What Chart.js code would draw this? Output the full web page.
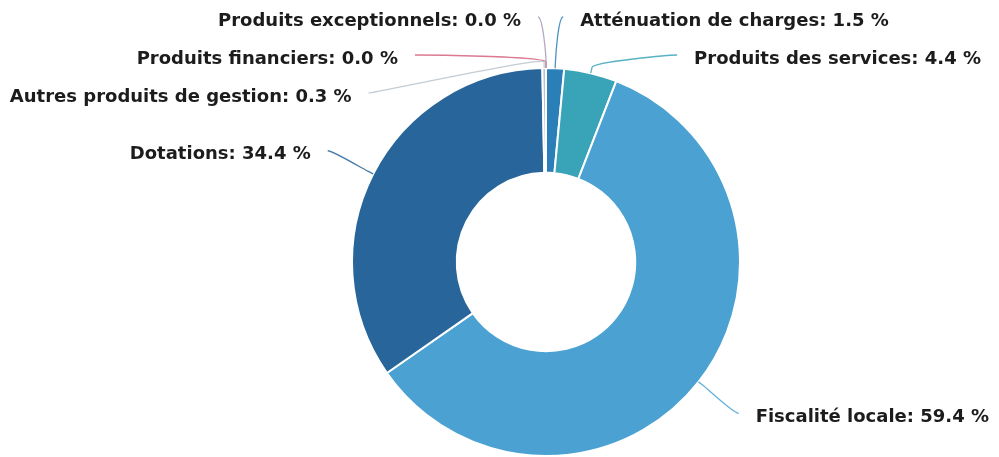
<!DOCTYPE html>
<html>
<head>
<meta charset="utf-8">
<script src="https://cdn.jsdelivr.net/npm/chart.js@4/dist/chart.umd.min.js"></script>
<style>
  html, body { margin: 0; padding: 0; background: #ffffff; }
  #wrap { width: 999px; height: 457px; position: relative; }
</style>
</head>
<body>
<div id="wrap"><canvas id="chart"></canvas></div>
<script>
// Répartition des recettes de fonctionnement (en %)
const categories = [
  'Atténuation de charges',
  'Produits des services',
  'Fiscalité locale',
  'Dotations',
  'Autres produits de gestion',
  'Produits financiers',
  'Produits exceptionnels'
];
const shares = [1.5, 4.4, 59.4, 34.4, 0.3, 0.0, 0.0];
const sliceColors = ['#2b7fb8', '#39a4b8', '#4aa1d2', '#28659a', '#b9c3cc', '#d4617f', '#a898b0'];

// Places labels outside the ring with curved connector lines,
// spreading crowded labels vertically on each side.
const outsideLabels = {
  id: 'outsideLabels',
  afterDatasetsDraw(chart) {
    const meta = chart.getDatasetMeta(0);
    const ctx = chart.ctx;
    const first = meta.data[0];
    const cx = first.x, cy = first.y, r = first.outerRadius;
    const labelR = r + 51;
    const minY = 17, maxY = chart.height - 20, step = 38, gap = 17, minReach = 8;

    const items = meta.data.map((arc, i) => {
      const mid = (arc.startAngle + arc.endAngle) / 2;
      return {
        i, mid,
        left: mid > Math.PI / 2,
        target: cy + labelR * Math.sin(mid),
        text: categories[i] + ': ' + shares[i].toFixed(1) + ' %'
      };
    });

    function distribute(list) {
      const clusters = list.map(it => ({ items: [it], sum: it.target }));
      const place = c => {
        const n = c.items.length;
        const top = c.sum / n - (n - 1) * step / 2;
        c.top = Math.max(minY, Math.min(top, maxY - (n - 1) * step));
      };
      clusters.forEach(place);
      let merged = true;
      while (merged) {
        merged = false;
        for (let k = 0; k < clusters.length - 1; k++) {
          const a = clusters[k], b = clusters[k + 1];
          if (a.top + a.items.length * step > b.top) {
            a.items = a.items.concat(b.items);
            a.sum += b.sum;
            clusters.splice(k + 1, 1);
            place(a);
            merged = true;
            break;
          }
        }
      }
      clusters.forEach(c => c.items.forEach((it, j) => { it.y = c.top + j * step; }));
    }

    // left side read from the top going anticlockwise, right side clockwise
    const leftSide = items.filter(it => it.left).sort((a, b) => (b.mid - a.mid) || (b.i - a.i));
    const rightSide = items.filter(it => !it.left).sort((a, b) => (a.mid - b.mid) || (a.i - b.i));
    distribute(leftSide);
    distribute(rightSide);

    ctx.save();
    ctx.font = 'bold 18px "DejaVu Sans", Verdana, sans-serif';
    ctx.textBaseline = 'middle';
    items.forEach(it => {
      const dir = it.left ? -1 : 1;
      const tx = cx + r * Math.cos(it.mid), ty = cy + r * Math.sin(it.mid);
      const bx = cx + (r + 6) * Math.cos(it.mid), by = cy + (r + 6) * Math.sin(it.mid);
      const dy = it.y - cy;
      const onRim = cx + dir * Math.sqrt(Math.max(labelR * labelR - dy * dy, 0));
      const ax = it.left ? Math.min(onRim, tx - minReach) : Math.max(onRim, tx + minReach);
      const ay = it.y;

      ctx.beginPath();
      ctx.moveTo(ax, ay);
      ctx.bezierCurveTo(ax - dir * 5, ay, 2 * bx - tx, 2 * by - ty, bx, by);
      ctx.lineTo(tx, ty);
      ctx.strokeStyle = sliceColors[it.i];
      ctx.globalAlpha = 0.85;
      ctx.lineWidth = 1.3;
      ctx.stroke();
      ctx.globalAlpha = 1;

      ctx.fillStyle = '#1c1c1c';
      ctx.textAlign = it.left ? 'right' : 'left';
      ctx.fillText(it.text, ax + dir * gap, ay + 4);
    });
    ctx.restore();
  }
};

new Chart(document.getElementById('chart'), {
  type: 'doughnut',
  data: {
    labels: categories,
    datasets: [{
      data: shares,
      backgroundColor: sliceColors,
      borderColor: '#ffffff',
      borderWidth: 2,
      hoverOffset: 0,
      offset: 0,
      clip: false
    }]
  },
  options: {
    responsive: true,
    maintainAspectRatio: false,
    animation: false,
    radius: 194,
    cutout: '46%',
    layout: { padding: { left: 300, right: 207, top: 70, bottom: 3 } },
    plugins: {
      legend: { display: false },
      tooltip: { enabled: false }
    }
  },
  plugins: [outsideLabels]
});
</script>
</body>
</html>
